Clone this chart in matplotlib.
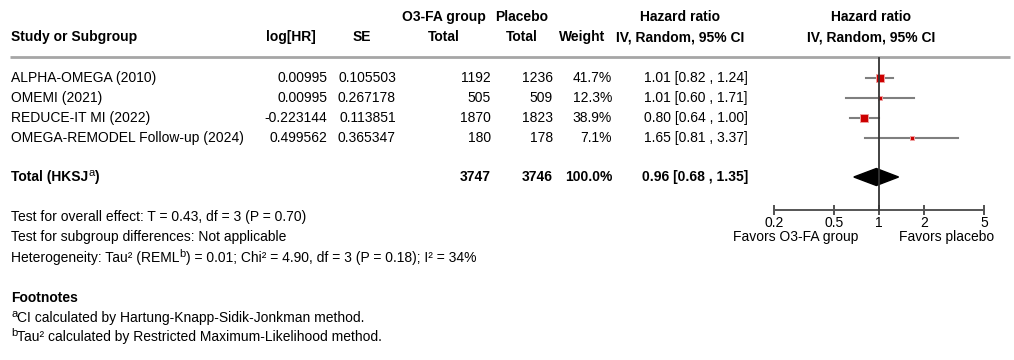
import matplotlib
matplotlib.use("Agg")
import matplotlib.pyplot as plt

plt.rcParams['font.family'] = ['Liberation Sans', 'DejaVu Sans']
plt.rcParams['font.size'] = 10

# ---------------- data ----------------
studies = ["ALPHA-OMEGA (2010)", "OMEMI (2021)", "REDUCE-IT MI (2022)",
           "OMEGA-REMODEL Follow-up (2024)"]
log_hr = [0.00995, 0.00995, -0.223144, 0.499562]
se = [0.105503, 0.267178, 0.113851, 0.365347]
o3_total = [1192, 505, 1870, 180]
placebo_total = [1236, 509, 1823, 178]
weight = [41.7, 12.3, 38.9, 7.1]
hr = [1.01, 1.01, 0.80, 1.65]
hr_lo = [0.82, 0.60, 0.64, 0.81]
hr_hi = [1.24, 1.71, 1.00, 3.37]
total_o3 = 3747
total_placebo = 3746
total_weight = 100.0
total_hr, total_lo, total_hi = 0.96, 0.68, 1.35
ticks = [0.2, 0.5, 1, 2, 5]
tick_labels = ["0.2", "0.5", "1", "2", "5"]

W, H = 1014, 360
fig = plt.figure(figsize=(W / 100, H / 100), dpi=100)
fig.patch.set_facecolor('white')

tax = fig.add_axes([0, 0, 1, 1])
tax.set_xlim(0, W)
tax.set_ylim(H, 0)
tax.axis('off')
renderer = fig.canvas.get_renderer()

def T(x, y, s, ha='left', bold=False, **kw):
    return tax.text(x, y, s, ha=ha, va='center',
                    fontweight='bold' if bold else 'normal', **kw)

def rich(x, y, pieces, bold=False):
    """pieces: list of (text, is_superscript)"""
    cx = x
    for s, sup in pieces:
        if sup:
            t = tax.text(cx, y - 4.0, s, ha='left', va='center', fontsize=8,
                         fontweight='normal')
        else:
            t = tax.text(cx, y, s, ha='left', va='center',
                         fontweight='bold' if bold else 'normal')
        ext = t.get_window_extent(renderer)
        cx = tax.transData.inverted().transform((ext.x1, 0))[0]

# headers
T(11, 37, "Study or Subgroup", bold=True)
T(291, 37, "log[HR]", ha='center', bold=True)
T(362, 37, "SE", ha='center', bold=True)
T(444, 17, "O3-FA group", ha='center', bold=True)
T(444, 37, "Total", ha='center', bold=True)
T(522, 17, "Placebo", ha='center', bold=True)
T(522, 37, "Total", ha='center', bold=True)
T(582, 37, "Weight", ha='center', bold=True)
T(680, 17, "Hazard ratio", ha='center', bold=True)
T(680, 37, "IV, Random, 95% CI", ha='center', bold=True)
T(871, 17, "Hazard ratio", ha='center', bold=True)
T(871, 37, "IV, Random, 95% CI", ha='center', bold=True)

tax.plot([10, 1010], [57, 57], color='#a6a6a6', lw=2, solid_capstyle='butt')

row_y = [78, 98, 118, 138]
for i, name in enumerate(studies):
    y = row_y[i]
    T(11, y, name)
    T(327, y, f"{log_hr[i]}", ha='right')
    T(396, y, f"{se[i]}", ha='right')
    T(491, y, f"{o3_total[i]}", ha='right')
    T(553, y, f"{placebo_total[i]}", ha='right')
    T(612, y, f"{weight[i]:.1f}%", ha='right')
    T(748, y, f"{hr[i]:.2f} [{hr_lo[i]:.2f} , {hr_hi[i]:.2f}]", ha='right')

ty = 177
rich(11, ty, [("Total (HKSJ", False), ("a", True), (")", False)], bold=True)
T(491, ty, f"{total_o3}", ha='right', bold=True)
T(553, ty, f"{total_placebo}", ha='right', bold=True)
T(612, ty, f"{total_weight:.1f}%", ha='right', bold=True)
T(748, ty, f"{total_hr:.2f} [{total_lo:.2f} , {total_hi:.2f}]", ha='right', bold=True)

T(11, 217, "Test for overall effect: T = 0.43, df = 3 (P = 0.70)")
T(11, 237, "Test for subgroup differences: Not applicable")
rich(11, 258, [("Heterogeneity: Tau² (REML", False), ("b", True),
               (") = 0.01; Chi² = 4.90, df = 3 (P = 0.18); I² = 34%", False)])
T(11, 298, "Footnotes", bold=True)
rich(11, 318, [("a", True), ("CI calculated by Hartung-Knapp-Sidik-Jonkman method.", False)])
rich(11, 337, [("b", True), ("Tau² calculated by Restricted Maximum-Likelihood method.", False)])

# forest axes
x0, x1 = 774, 984
y_top, y_bot = 57, 210
fax = fig.add_axes([x0 / W, 1 - y_bot / H, (x1 - x0) / W, (y_bot - y_top) / H])
fax.set_xscale('log')
fax.set_xlim(0.2, 5)
fax.set_ylim(y_bot, y_top)
fax.patch.set_alpha(0)
for s in ['top', 'left', 'right']:
    fax.spines[s].set_visible(False)
fax.spines['bottom'].set_color('#555555')
fax.spines['bottom'].set_linewidth(1.4)
fax.set_yticks([])
fax.set_xticks(ticks)
fax.set_xticklabels(tick_labels)
fax.minorticks_off()
fax.tick_params(axis='x', direction='inout', length=7, width=1.2, color='#333333',
                labelsize=10, pad=1)

fax.plot([1, 1], [y_top + 1, y_bot], color='#333333', lw=1.3, clip_on=False, zorder=6)

for i in range(len(studies)):
    y = row_y[i]
    fax.plot([hr_lo[i], hr_hi[i]], [y, y], color='#7f7f7f', lw=1.5, clip_on=False, zorder=2)
    side_px = 1.35 * weight[i] ** 0.5
    fax.plot([hr[i]], [y], marker='s', linestyle='none', markersize=side_px * 0.72,
             markerfacecolor='#cc0000', markeredgecolor='#f0a0a0', markeredgewidth=0.7,
             clip_on=False, zorder=5)

half_h = 8.5
fax.fill([total_lo, total_hr, total_hi, total_hr],
         [ty, ty - half_h, ty, ty + half_h], color='black', clip_on=False, zorder=3)

T(796, 237, "Favors O3-FA group", ha='center')
T(947, 237, "Favors placebo", ha='center')

fig.savefig("out.png", dpi=100, facecolor='white')
